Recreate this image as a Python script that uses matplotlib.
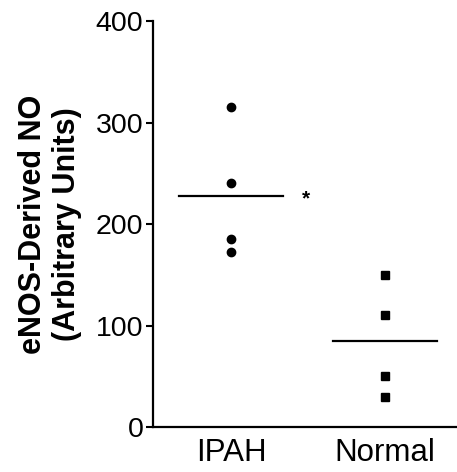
import numpy as np
import matplotlib.pyplot as plt

plt.rcParams['font.family'] = ['Liberation Sans', 'DejaVu Sans']

groups = ['IPAH', 'Normal']
ipah = [315, 240, 185, 172]
normal = [150, 110, 50, 30]
markers = ['o', 's']

fig = plt.figure(figsize=(4.57, 4.72), dpi=100)
ax = fig.add_axes([0.335, 0.0953, 0.665, 0.8602])

for i, vals in enumerate([ipah, normal]):
    ax.plot([i] * len(vals), vals, linestyle='none', marker=markers[i],
            markersize=6, color='black')
    m = np.mean(vals)
    ax.plot([i - 0.34, i + 0.34], [m, m], color='black', linewidth=1.6)

# significance mark next to IPAH mean
ax.text(0.485, np.mean(ipah) - 3, '*', fontsize=15, fontweight='bold',
        ha='center', va='center')

ax.set_xlim(-0.506, 1.468)
ax.set_ylim(0, 400)
ax.set_yticks([0, 100, 200, 300, 400])
ax.set_xticks([0, 1])
ax.set_xticklabels(groups)
ax.tick_params(axis='x', length=0, labelsize=22.5, pad=8)
ax.tick_params(axis='y', length=5, width=1.5, labelsize=20.5, pad=2)
ax.spines['top'].set_visible(False)
ax.spines['right'].set_visible(False)
ax.spines['left'].set_linewidth(1.6)
ax.spines['bottom'].set_linewidth(1.6)
ax.set_ylabel('eNOS-Derived NO\n(Arbitrary Units)', fontsize=22,
              fontweight='bold', labelpad=10, linespacing=1.15)

plt.savefig('out.png', dpi=100)
